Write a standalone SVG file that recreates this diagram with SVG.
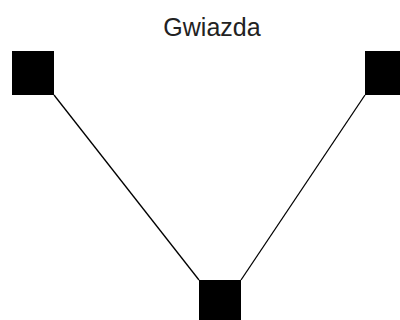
<svg xmlns="http://www.w3.org/2000/svg" width="400" height="320" viewBox="0 0 400 320">
<style>
.node{fill:#000}
.edge{stroke:#000;stroke-width:1.3;fill:none}
.title{font-family:"Liberation Sans",Arial,sans-serif;font-size:25px;fill:#222}
</style>
<rect width="400" height="320" fill="#fff"/>
<text class="title" x="212" y="36" text-anchor="middle">Gwiazda</text>
<g id="connectors">
<line class="edge" x1="54" y1="95" x2="199" y2="280"/>
<line class="edge" x1="365" y1="95" x2="241" y2="280"/>
</g>
<g id="node-left"><rect class="node" x="12" y="51" width="42" height="44"/></g>
<g id="node-right"><rect class="node" x="365" y="51" width="42" height="44"/></g>
<g id="node-bottom"><rect class="node" x="199" y="280" width="42" height="44"/></g>
</svg>
